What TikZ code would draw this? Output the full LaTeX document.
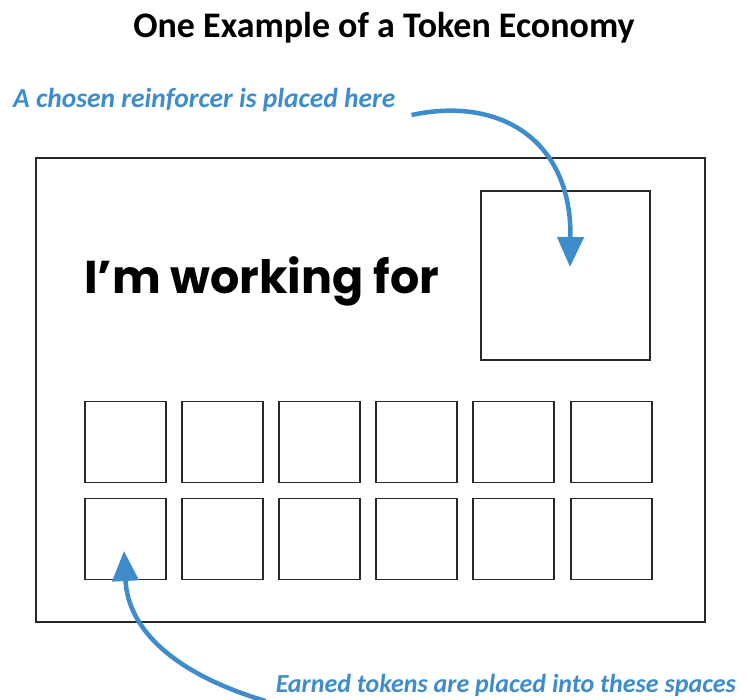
\documentclass[tikz,border=0pt]{standalone}
\usepackage{fontspec}
\setmainfont{Carlito}
\newfontfamily\roundfont{Poppins}
\usetikzlibrary{arrows.meta}
\definecolor{noteblue}{RGB}{62,140,204}
\definecolor{linegray}{RGB}{40,40,40}
\begin{document}
\begin{tikzpicture}[x=1pt,y=-1pt,
  frame/.style={draw=linegray,line width=1.8pt},
  tokenbox/.style={draw=linegray,line width=1.6pt,minimum width=81pt,minimum height=81pt,inner sep=0pt},
  note/.style={text=noteblue,font=\bfseries\itshape,inner sep=0pt,anchor=base west},
  callout/.style={draw=noteblue,line width=4.5pt,-{Triangle[width=26pt,length=30pt]}}]
\useasboundingbox[fill=white] (0,0) rectangle (749,699);
\node[font=\fontsize{36}{40}\selectfont\bfseries,anchor=base] (title) at (384,37) {One Example of a Token Economy};
\node[note,font=\fontsize{27.5}{32}\selectfont\bfseries\itshape] (lblA) at (13,107) {A chosen reinforcer is placed here};
\node[note,font=\fontsize{26}{30}\selectfont\bfseries\itshape,anchor=base east] (lblB) at (736,692) {Earned tokens are placed into these spaces};
\node[frame,minimum width=669pt,minimum height=464pt,inner sep=0pt] (board) at (370.5,390) {};
\node[font=\fontsize{46}{52}\selectfont\roundfont\bfseries,anchor=base west,inner sep=0pt] (working) at (84,293) {I’m working for};
\node[tokenbox,minimum width=169pt,minimum height=169pt] (reward) at (565.5,275.5) {};
\foreach \i/\x in {1/125.5,2/222.5,3/319.5,4/416.5,5/513.5,6/611.5}{
  \node[tokenbox] (ta\i) at (\x,442) {};
  \node[tokenbox] (tb\i) at (\x,539) {};
}
\coordinate (tipA) at (570,267);
\coordinate (tipB) at (124,551);
\draw[callout] ([xshift=16pt,yshift=-8pt]lblA.base east) .. controls (500,96) and (572,140) .. (tipA);
\draw[callout] ([xshift=-10pt,yshift=-9pt]lblB.base west) .. controls (175,674) and (128,630) .. (tipB);
\end{tikzpicture}
\end{document}
